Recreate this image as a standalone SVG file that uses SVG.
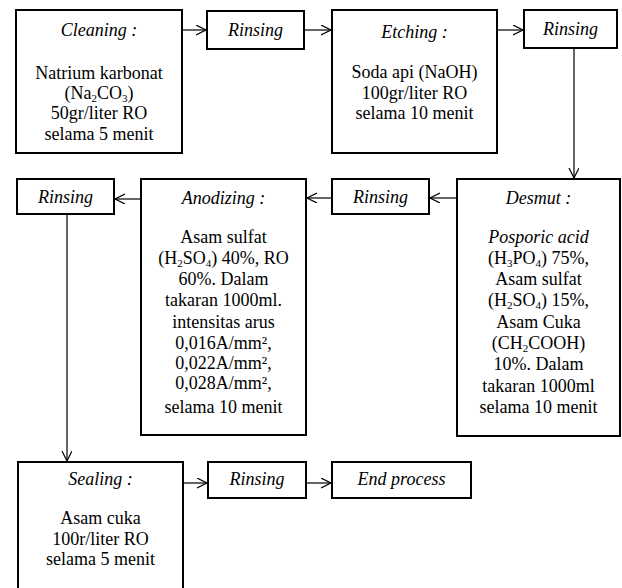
<svg xmlns="http://www.w3.org/2000/svg" width="622" height="588" viewBox="0 0 622 588">
<style>
.box{fill:#fff;stroke:#000;stroke-width:2}
.t{font-family:"Liberation Serif","Times New Roman",serif;font-size:18px;fill:#000;text-anchor:middle}
.i{font-style:italic}
.c{fill:none;stroke:#000;stroke-width:1.2}
.sub{font-size:11px}
</style>
<defs>
<marker id="ah" markerUnits="userSpaceOnUse" markerWidth="12" markerHeight="12" refX="10" refY="5" orient="auto" viewBox="0 0 12 12">
<path d="M0,0 L10,5 L0,10" fill="none" stroke="#000" stroke-width="1.2"/>
</marker>
</defs>
<rect width="622" height="588" fill="#fff"/>
<g id="connectors">
<line class="c" x1="182" y1="30" x2="206" y2="30" marker-end="url(#ah)"/>
<line class="c" x1="304" y1="30" x2="331" y2="30" marker-end="url(#ah)"/>
<line class="c" x1="497" y1="30" x2="523" y2="30" marker-end="url(#ah)"/>
<line class="c" x1="574" y1="48" x2="574" y2="178" marker-end="url(#ah)"/>
<line class="c" x1="457" y1="198" x2="430" y2="198" marker-end="url(#ah)"/>
<line class="c" x1="332" y1="198" x2="307" y2="198" marker-end="url(#ah)"/>
<line class="c" x1="141" y1="199" x2="115" y2="199" marker-end="url(#ah)"/>
<line class="c" x1="67" y1="214" x2="67" y2="461" marker-end="url(#ah)"/>
<line class="c" x1="183" y1="483" x2="207" y2="483" marker-end="url(#ah)"/>
<line class="c" x1="306" y1="483" x2="331" y2="483" marker-end="url(#ah)"/>
</g>
<g id="cleaning">
<rect class="box" x="16" y="10" width="166" height="143"/>
<text class="t i" x="99" y="36">Cleaning :</text>
<text class="t" x="99" y="79">Natrium karbonat</text>
<text class="t" x="99" y="99">(Na<tspan class="sub" dy="3">2</tspan><tspan dy="-3">CO</tspan><tspan class="sub" dy="3">3</tspan><tspan dy="-3">)</tspan></text>
<text class="t" x="99" y="119">50gr/liter RO</text>
<text class="t" x="99" y="140">selama 5 menit</text>
</g>
<g id="rinsing1">
<rect class="box" x="207" y="11" width="97" height="38"/>
<text class="t i" x="255.5" y="36">Rinsing</text>
</g>
<g id="etching">
<rect class="box" x="332" y="10" width="165" height="143"/>
<text class="t i" x="414.5" y="38">Etching :</text>
<text class="t" x="414.5" y="78">Soda api (NaOH)</text>
<text class="t" x="414.5" y="99">100gr/liter RO</text>
<text class="t" x="414.5" y="119">selama 10 menit</text>
</g>
<g id="rinsing2">
<rect class="box" x="524" y="10" width="93" height="38"/>
<text class="t i" x="570.5" y="35">Rinsing</text>
</g>
<g id="desmut">
<rect class="box" x="457" y="179" width="163" height="257"/>
<text class="t i" x="538.5" y="204">Desmut :</text>
<text class="t i" x="538.5" y="243">Posporic acid</text>
<text class="t" x="538.5" y="264">(H<tspan class="sub" dy="3">3</tspan><tspan dy="-3">PO</tspan><tspan class="sub" dy="3">4</tspan><tspan dy="-3">) 75%,</tspan></text>
<text class="t" x="538.5" y="285">Asam sulfat</text>
<text class="t" x="538.5" y="306">(H<tspan class="sub" dy="3">2</tspan><tspan dy="-3">SO</tspan><tspan class="sub" dy="3">4</tspan><tspan dy="-3">) 15%,</tspan></text>
<text class="t" x="538.5" y="328">Asam Cuka</text>
<text class="t" x="538.5" y="349">(CH<tspan class="sub" dy="3">2</tspan><tspan dy="-3">COOH)</tspan></text>
<text class="t" x="538.5" y="370">10%. Dalam</text>
<text class="t" x="538.5" y="392">takaran 1000ml</text>
<text class="t" x="538.5" y="413">selama 10 menit</text>
</g>
<g id="rinsing3">
<rect class="box" x="332" y="179" width="97" height="35"/>
<text class="t i" x="380.5" y="203">Rinsing</text>
</g>
<g id="anodizing">
<rect class="box" x="141" y="179" width="165" height="256"/>
<text class="t i" x="223.5" y="204">Anodizing :</text>
<text class="t" x="223.5" y="243">Asam sulfat</text>
<text class="t" x="223.5" y="264">(H<tspan class="sub" dy="3">2</tspan><tspan dy="-3">SO</tspan><tspan class="sub" dy="3">4</tspan><tspan dy="-3">) 40%, RO</tspan></text>
<text class="t" x="223.5" y="285">60%. Dalam</text>
<text class="t" x="223.5" y="306">takaran 1000ml.</text>
<text class="t" x="223.5" y="328">intensitas arus</text>
<text class="t" x="223.5" y="349">0,016A/mm²,</text>
<text class="t" x="223.5" y="369">0,022A/mm²,</text>
<text class="t" x="223.5" y="389">0,028A/mm²,</text>
<text class="t" x="223.5" y="413">selama 10 menit</text>
</g>
<g id="rinsing4">
<rect class="box" x="17" y="179" width="97" height="35"/>
<text class="t i" x="65.5" y="203">Rinsing</text>
</g>
<g id="sealing">
<rect class="box" x="18" y="462" width="165" height="140"/>
<text class="t i" x="100.5" y="485">Sealing :</text>
<text class="t" x="100.5" y="524">Asam cuka</text>
<text class="t" x="100.5" y="545">100r/liter RO</text>
<text class="t" x="100.5" y="565">selama 5 menit</text>
</g>
<g id="rinsing5">
<rect class="box" x="208" y="462" width="98" height="36"/>
<text class="t i" x="257" y="485">Rinsing</text>
</g>
<g id="endprocess">
<rect class="box" x="332" y="462" width="139" height="36"/>
<text class="t i" x="401.5" y="485">End process</text>
</g>
</svg>
